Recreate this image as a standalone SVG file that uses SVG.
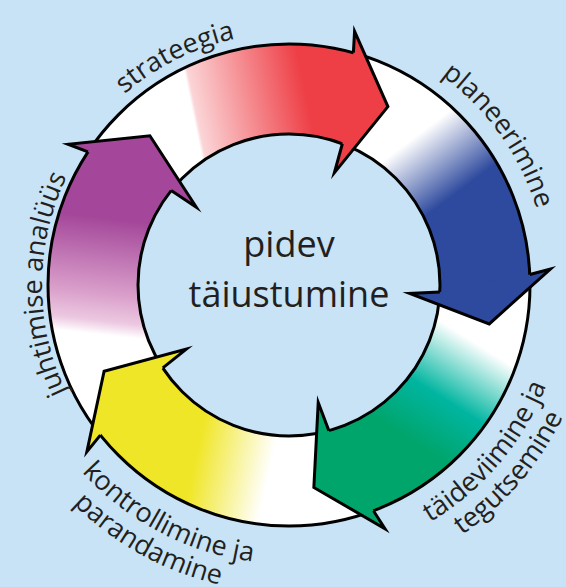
<svg xmlns="http://www.w3.org/2000/svg" width="566" height="587" viewBox="0 0 566 587">
<style>
.lbl{font-family:"Open Sans","Noto Sans","DejaVu Sans",sans-serif;font-size:27px;fill:#231f20}
.ctr{font-family:"Open Sans","Noto Sans","DejaVu Sans",sans-serif;font-size:36px;fill:#231f20;text-anchor:middle}
.ring{fill:none;stroke:#000;stroke-width:3}
.hl{fill:none;stroke:#000;stroke-width:3;stroke-linejoin:miter;stroke-miterlimit:10}
</style>
<defs>
<linearGradient id="gRed" gradientUnits="userSpaceOnUse" x1="188" y1="90" x2="300" y2="67" gradientTransform="rotate(-29 289 285)">
<stop offset="0" stop-color="#fff"/><stop offset="0.03" stop-color="#fbd5d7"/><stop offset="1" stop-color="#ee3f46"/>
</linearGradient>
<linearGradient id="gBlue" gradientUnits="userSpaceOnUse" x1="420" y1="133" x2="462" y2="189" gradientTransform="rotate(-101 289 285)">
<stop offset="0" stop-color="#fff"/><stop offset="1" stop-color="#2e4a9e"/>
</linearGradient>
<linearGradient id="gGreen" gradientUnits="userSpaceOnUse" x1="471" y1="340" x2="398" y2="456" gradientTransform="rotate(-173 289 285)">
<stop offset="0" stop-color="#fff"/><stop offset="0.47" stop-color="#00b5a0"/><stop offset="0.85" stop-color="#00a56c"/><stop offset="1" stop-color="#00a56c"/>
</linearGradient>
<linearGradient id="gYellow" gradientUnits="userSpaceOnUse" x1="270" y1="470" x2="197" y2="454" gradientTransform="rotate(-245 289 285)">
<stop offset="0" stop-color="#fff"/><stop offset="1" stop-color="#f0e628"/>
</linearGradient>
<linearGradient id="gPurple" gradientUnits="userSpaceOnUse" x1="87" y1="333" x2="100" y2="218" gradientTransform="rotate(-317 289 285)">
<stop offset="0" stop-color="#fff"/><stop offset="0.12" stop-color="#ecc8e1"/><stop offset="0.35" stop-color="#daa0cb"/><stop offset="1" stop-color="#a4479a"/>
</linearGradient>
<path id="pStr" d="M44,226.2 A252,252 0 0 1 389.5,53.9"/>
<path id="pPla" d="M309.3,26.8 A259,259 0 0 1 539.8,349.8"/>
<path id="pJuh" d="M164.8,498.5 A247,247 0 0 1 166.2,70.7"/>
<path id="pTai" d="M287.6,561 A276,276 0 0 0 561.1,238.5"/>
<path id="pTeg" d="M286.3,589 A304,304 0 0 0 588.8,234.8"/>
<path id="pKon" d="M16.4,344.4 A279,279 0 0 0 394.9,543.1"/>
<path id="pPar" d="M-12.2,344.6 A306,306 0 0 0 400,571.2"/>
</defs>
<rect width="566" height="587" fill="#c7e3f5"/>
<g id="ring-base">
<circle cx="289" cy="285" r="241" fill="#fff"/>
<circle cx="289" cy="285" r="151" fill="#c7e3f5"/>
</g>
<g id="shafts">
<path id="shaft-strateegia" transform="rotate(29 289 285)" fill="url(#gRed)" d="M49.3,259.8 A241,241 0 0 1 238.9,49.3 L273.2,134.8 A151,151 0 0 0 141.3,253.6 Z"/>
<path id="shaft-planeerimine" transform="rotate(101 289 285)" fill="url(#gBlue)" d="M49.3,259.8 A241,241 0 0 1 238.9,49.3 L273.2,134.8 A151,151 0 0 0 141.3,253.6 Z"/>
<path id="shaft-taideviimine" transform="rotate(173 289 285)" fill="url(#gGreen)" d="M49.3,259.8 A241,241 0 0 1 238.9,49.3 L273.2,134.8 A151,151 0 0 0 141.3,253.6 Z"/>
<path id="shaft-kontrollimine" transform="rotate(245 289 285)" fill="url(#gYellow)" d="M49.3,259.8 A241,241 0 0 1 238.9,49.3 L273.2,134.8 A151,151 0 0 0 141.3,253.6 Z"/>
<path id="shaft-juhtimine" transform="rotate(317 289 285)" fill="url(#gPurple)" d="M49.3,259.8 A241,241 0 0 1 238.9,49.3 L273.2,134.8 A151,151 0 0 0 141.3,253.6 Z"/>
</g>
<g id="ring-lines">
<circle class="ring" cx="289" cy="285" r="241"/>
<circle class="ring" cx="289" cy="285" r="151"/>
</g>
<g id="heads">
<g id="head-strateegia" transform="rotate(29 289 285)">
<path fill="#ee3f46" d="M232.7,50.6 L223.4,31.4 L289,81 L274.3,164.9 L267.2,135.6 Z"/>
<path class="hl" d="M232.7,50.6 L223.4,31.4 L289,81 L274.3,164.9 L267.2,135.6"/>
</g>
<g id="head-planeerimine" transform="rotate(101 289 285)">
<path fill="#2e4a9e" d="M232.7,50.6 L223.4,31.4 L289,81 L274.3,164.9 L267.2,135.6 Z"/>
<path class="hl" d="M232.7,50.6 L223.4,31.4 L289,81 L274.3,164.9 L267.2,135.6"/>
</g>
<g id="head-taideviimine" transform="rotate(173 289 285)">
<path fill="#00a56c" d="M232.7,50.6 L223.4,31.4 L289,81 L274.3,164.9 L267.2,135.6 Z"/>
<path class="hl" d="M232.7,50.6 L223.4,31.4 L289,81 L274.3,164.9 L267.2,135.6"/>
</g>
<g id="head-kontrollimine" transform="rotate(245 289 285)">
<path fill="#f0e628" d="M232.7,50.6 L223.4,31.4 L289,81 L274.3,164.9 L267.2,135.6 Z"/>
<path class="hl" d="M232.7,50.6 L223.4,31.4 L289,81 L274.3,164.9 L267.2,135.6"/>
</g>
<g id="head-juhtimine" transform="rotate(317 289 285)">
<path fill="#a4479a" d="M232.7,50.6 L223.4,31.4 L289,81 L274.3,164.9 L267.2,135.6 Z"/>
<path class="hl" d="M232.7,50.6 L223.4,31.4 L289,81 L274.3,164.9 L267.2,135.6"/>
</g>
</g>
<g id="labels">
<text class="lbl"><textPath href="#pStr" startOffset="50%" text-anchor="middle">strateegia</textPath></text>
<text class="lbl"><textPath href="#pPla" startOffset="50%" text-anchor="middle">planeerimine</textPath></text>
<text class="lbl"><textPath href="#pJuh" startOffset="50%" text-anchor="middle">juhtimise analüüs</textPath></text>
<text class="lbl"><textPath href="#pTai" startOffset="50%" text-anchor="middle">täideviimine ja</textPath></text>
<text class="lbl"><textPath href="#pTeg" startOffset="50%" text-anchor="middle">tegutsemine</textPath></text>
<text class="lbl"><textPath href="#pKon" startOffset="50%" text-anchor="middle">kontrollimine ja</textPath></text>
<text class="lbl"><textPath href="#pPar" startOffset="50%" text-anchor="middle">parandamine</textPath></text>
</g>
<g id="center">
<text class="ctr" x="289" y="257">pidev</text>
<text class="ctr" x="289" y="307">täiustumine</text>
</g>
</svg>
